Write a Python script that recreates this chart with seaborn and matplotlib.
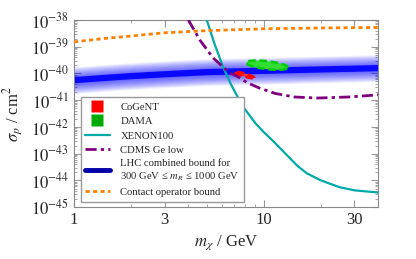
import numpy as np
import pandas as pd
import seaborn as sns
import matplotlib.pyplot as plt
from matplotlib.patches import Polygon
from matplotlib.lines import Line2D

# data (x = m_chi in GeV, y = log10 sigma_p / cm^2)
xenon_m = [5.0, 5.5, 6.1, 6.7, 7.3, 7.94, 9.0, 10.0, 11.1, 13.0, 15.0, 16.8, 20.0, 25.0, 30.0, 40.0]
xenon_log = [-38.0, -38.9, -39.76, -40.4, -40.9, -41.33, -41.85, -42.2, -42.5, -43.0, -43.45, -43.73, -44.0, -44.25, -44.37, -44.45]

cdms_m = [4.0, 4.6, 5.4, 6.6, 7.2, 8.2, 9.5, 11.5, 14.5, 19.0, 28.0, 40.0]
cdms_log = [-38.0, -38.75, -39.42, -39.98, -40.1, -40.35, -40.55, -40.75, -40.88, -40.92, -40.88, -40.8]

contact_m = [1.0, 1.5, 2.0, 3.0, 5.0, 10.0, 20.0, 40.0]
contact_log = [-38.82, -38.68, -38.6, -38.48, -38.4, -38.33, -38.3, -38.28]

lhc_m = [1.0, 1.5, 2.0, 3.0, 5.0, 10.0, 20.0, 40.0]
lhc_log = [-40.25, -40.16, -40.1, -40.03, -39.95, -39.9, -39.85, -39.8]

# DAMA and CoGeNT regions (centre, half widths in decades, tilt)
dama_centre = (10.4, -39.69)
dama_size = (0.11, 0.15)
dama_tilt = -0.8
cogent_centre = (7.9, -40.06)
cogent_size = (0.053, 0.06)
cogent_tilt = -2.0

sns.set_style("ticks")
plt.rcParams["font.family"] = ["Liberation Serif", "DejaVu Serif"]
plt.rcParams["mathtext.fontset"] = "stix"

fig = plt.figure(figsize=(4.16, 2.59), dpi=100)
ax = fig.add_axes([0.178, 0.2, 0.731, 0.723])
ax.set_xscale("log")
ax.set_yscale("log")

df_lhc = pd.DataFrame({"m": lhc_m, "s": 10.0 ** np.array(lhc_log)})
# blurred band: stacked translucent layers
for w in np.linspace(0.04, 0.5, 14):
    ax.fill_between(df_lhc["m"], 10.0 ** (np.array(lhc_log) - w), 10.0 ** (np.array(lhc_log) + w),
                    color="#0000ff", alpha=0.07, lw=0)
sns.lineplot(data=df_lhc, x="m", y="s", ax=ax, color="#0000ff", lw=4.5, alpha=0.9)


def region(centre, size, tilt, fc, ec):
    t = np.linspace(0, 2 * np.pi, 80)
    lx = np.log10(centre[0]) + size[0] * np.cos(t)
    ly = centre[1] + size[1] * np.sin(t) + tilt * size[0] * np.cos(t)
    poly = Polygon(np.column_stack([10 ** lx, 10 ** ly]), closed=True, fc=fc, ec=ec,
                   lw=1.8, ls=(0, (3, 1.5)), zorder=4)
    ax.add_patch(poly)


region(dama_centre, dama_size, dama_tilt, "#33dd33", "#00cc00")
region(cogent_centre, cogent_size, cogent_tilt, "#ff3030", "#ff0000")

sns.lineplot(x=xenon_m, y=10.0 ** np.array(xenon_log), ax=ax, color="#00aaaa", lw=1.6, zorder=5)
sns.lineplot(x=cdms_m, y=10.0 ** np.array(cdms_log), ax=ax, color="#800080", lw=2, zorder=5)
ax.lines[-1].set_linestyle((0, (4, 1.5, 1.2, 1.5)))
sns.lineplot(x=contact_m, y=10.0 ** np.array(contact_log), ax=ax, color="#ff8000", lw=2, zorder=5)
ax.lines[-1].set_linestyle((0, (1.5, 1.2)))

ax.set_xlim(1, 40)
ax.set_ylim(1e-45, 1e-38)
ax.set_xticks([1, 3, 10, 30])
ax.set_xticklabels(["1", "3", "10", "30"])
ax.set_yticks([10.0 ** k for k in range(-45, -37)])
ax.set_yticklabels([r"$10^{%d}$" % k for k in range(-45, -37)])
ax.yaxis.set_minor_locator(plt.LogLocator(base=10, subs=np.arange(2, 10), numticks=20))
ax.yaxis.set_minor_formatter(plt.NullFormatter())
ax.xaxis.set_minor_formatter(plt.NullFormatter())
ax.tick_params(which="both", direction="in", top=True, right=True, color="#999999", labelsize=12)
ax.tick_params(which="major", length=5)
ax.tick_params(which="minor", length=2.5)
for s in ax.spines.values():
    s.set_color("#888888")
    s.set_linewidth(0.8)

ax.set_xlabel(r"$m_\chi$ / GeV", fontsize=12)
ax.set_ylabel(r"$\sigma_p$ / cm$^2$", fontsize=12)

handles = [
    Line2D([], [], ls="none", marker="s", ms=9, mfc="#ff0000", mec="none"),
    Line2D([], [], ls="none", marker="s", ms=9, mfc="#00aa00", mec="none"),
    Line2D([], [], color="#00aaaa", lw=1.6),
    Line2D([], [], color="#800080", lw=2, ls=(0, (4, 1.5, 1.2, 1.5))),
    Line2D([], [], color="#0000aa", lw=3.5),
    Line2D([], [], color="#ff8000", lw=2, ls=(0, (1.5, 1.2))),
]
labels = ["CoGeNT", "DAMA", "XENON100", "CDMS Ge low",
          "LHC combined bound for\n300 GeV \u2264 $m_R$ \u2264 1000 GeV", "Contact operator bound"]
leg = ax.legend(handles, labels, loc="lower left", bbox_to_anchor=(0.022, 0.03), borderaxespad=0,
                fontsize=7.7, frameon=True, fancybox=False, framealpha=1, handlelength=2.3,
                handleheight=1.0, labelspacing=0.38, borderpad=0.4, handletextpad=1.0)
leg.get_frame().set_edgecolor("#999999")
leg.set_zorder(6)

fig.savefig("out.png", dpi=100)
